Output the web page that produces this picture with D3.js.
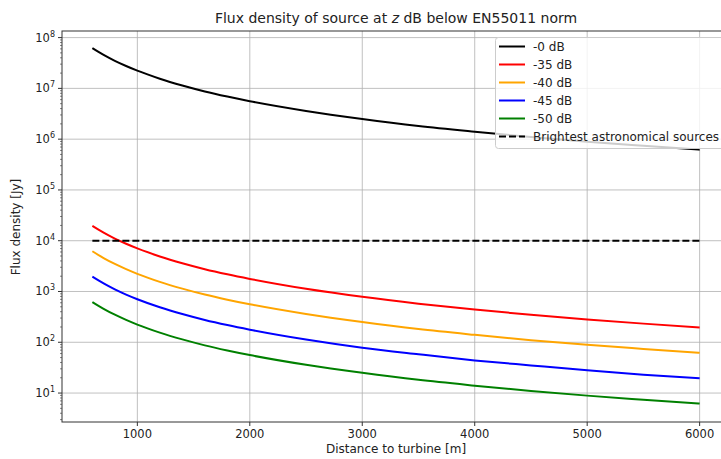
<!DOCTYPE html>
<html><head><meta charset="utf-8">
<script src="https://cdn.jsdelivr.net/npm/d3@7"></script>
<style>
body{margin:0;background:#fff;}
text{font-family:"DejaVu Sans",sans-serif;fill:#222;}
</style></head>
<body><svg id="c" width="721" height="459"></svg>
<script>
const distances = [600,700,800,900,1000,1200,1400,1600,1800,2000,2500,3000,3500,4000,4500,5000,5500,6000];
const db0  = [6.2e7,4.56e7,3.49e7,2.76e7,2.23e7,1.55e7,1.14e7,8.7e6,6.9e6,5.6e6,3.6e6,2.5e6,1.82e6,1.40e6,1.10e6,8.9e5,7.4e5,6.2e5];
const db35 = [1.96e4,1.44e4,1.10e4,8.7e3,7.05e3,4.9e3,3.6e3,2.75e3,2.18e3,1.77e3,1.13e3,784,576,441,348,282,233,196];
const db40 = [6200,4560,3490,2760,2230,1550,1140,870,690,560,360,250,182,140,110,89,74,62];
const db45 = [1960,1440,1100,870,705,490,360,275,218,177,113,78,58,44,35,28,23,19.6];
const db50 = [620,456,349,276,223,155,114,87,69,56,36,25,18.2,14,11,8.9,7.4,6.2];
const brightestX = [600,6000];
const brightestY = [1e4,1e4];
const seriesNames = ["-0 dB","-35 dB","-40 dB","-45 dB","-50 dB"];
const seriesColors = ["#000000","#ff0000","#ffa500","#0000ff","#008000"];
const seriesValues = [db0,db35,db40,db45,db50];
const xTicks = [1000,2000,3000,4000,5000,6000];
const yTickExps = [1,2,3,4,5,6,7,8];

const svg = d3.select("#c");
const L=62, T=31, B=422, R=730;
const x = d3.scaleLinear().domain([330,6270]).range([L,R]);
const y = d3.scaleLog().domain([Math.pow(10,0.43),Math.pow(10,8.13)]).range([B,T]);

// grid
const g = svg.append("g");
xTicks.forEach(t=>g.append("line").attr("x1",x(t)).attr("x2",x(t)).attr("y1",T).attr("y2",B).attr("stroke","#b0b0b0").attr("stroke-width",0.8));
yTickExps.forEach(e=>g.append("line").attr("x1",L).attr("x2",R).attr("y1",y(Math.pow(10,e))).attr("y2",y(Math.pow(10,e))).attr("stroke","#b0b0b0").attr("stroke-width",0.8));

// lines
const line = d3.line().x(d=>x(d[0])).y(d=>y(d[1])).curve(d3.curveMonotoneX);
seriesValues.forEach((vals,i)=>{
  svg.append("path").datum(distances.map((d,j)=>[d,vals[j]])).attr("d",line)
    .attr("fill","none").attr("stroke",seriesColors[i]).attr("stroke-width",2);
});
svg.append("path").datum(brightestX.map((d,j)=>[d,brightestY[j]])).attr("d",line)
  .attr("fill","none").attr("stroke","#000").attr("stroke-width",2).attr("stroke-dasharray","7,3");

// axes frame
svg.append("rect").attr("x",L).attr("y",T).attr("width",R-L).attr("height",B-T).attr("fill","none").attr("stroke","#333").attr("stroke-width",1);

// x ticks
xTicks.forEach(t=>{
  svg.append("line").attr("x1",x(t)).attr("x2",x(t)).attr("y1",B).attr("y2",B+4).attr("stroke","#333");
  svg.append("text").attr("x",x(t)).attr("y",B+16).attr("text-anchor","middle").attr("font-size",11.5).text(t);
});
// y ticks
yTickExps.forEach(e=>{
  const yy=y(Math.pow(10,e));
  svg.append("line").attr("x1",L-4).attr("x2",L).attr("y1",yy).attr("y2",yy).attr("stroke","#333");
  const tx=svg.append("text").attr("x",L-7).attr("y",yy+4).attr("text-anchor","end").attr("font-size",11.5);
  tx.append("tspan").text("10");
  tx.append("tspan").attr("dy",-5).attr("font-size",8).text(e);
});
// minor ticks
for(let e=0;e<=8;e++){for(let m=2;m<=9;m++){const v=m*Math.pow(10,e);
  if(v>y.domain()[0]&&v<y.domain()[1]){const yy=y(v);
    svg.append("line").attr("x1",L-2).attr("x2",L).attr("y1",yy).attr("y2",yy).attr("stroke","#333").attr("stroke-width",0.6);}}}

// labels
svg.append("text").attr("x",396).attr("y",453).attr("text-anchor","middle").attr("font-size",12).text("Distance to turbine [m]");
svg.append("text").attr("transform","translate(20,227) rotate(-90)").attr("text-anchor","middle").attr("font-size",12).text("Flux density [Jy]");
const title=svg.append("text").attr("x",396).attr("y",23).attr("text-anchor","middle").attr("font-size",14);
title.append("tspan").text("Flux density of source at ");
title.append("tspan").attr("font-style","italic").text("z");
title.append("tspan").text(" dB below EN55011 norm");

// legend
const lg=svg.append("g");
lg.append("rect").attr("x",495.5).attr("y",37.5).attr("width",240).attr("height",111).attr("rx",3)
  .attr("fill","#fff").attr("fill-opacity",0.8).attr("stroke","#ccc");
const names = seriesNames.concat(["Brightest astronomical sources"]);
names.forEach((n,i)=>{
  const yy=46.5+i*18;
  lg.append("line").attr("x1",499).attr("x2",525).attr("y1",yy).attr("y2",yy)
    .attr("stroke",i<5?seriesColors[i]:"#000").attr("stroke-width",2).attr("stroke-dasharray",i<5?null:"7,3");
  lg.append("text").attr("x",533).attr("y",yy+4.5).attr("font-size",12).text(n);
});
</script></body></html>
